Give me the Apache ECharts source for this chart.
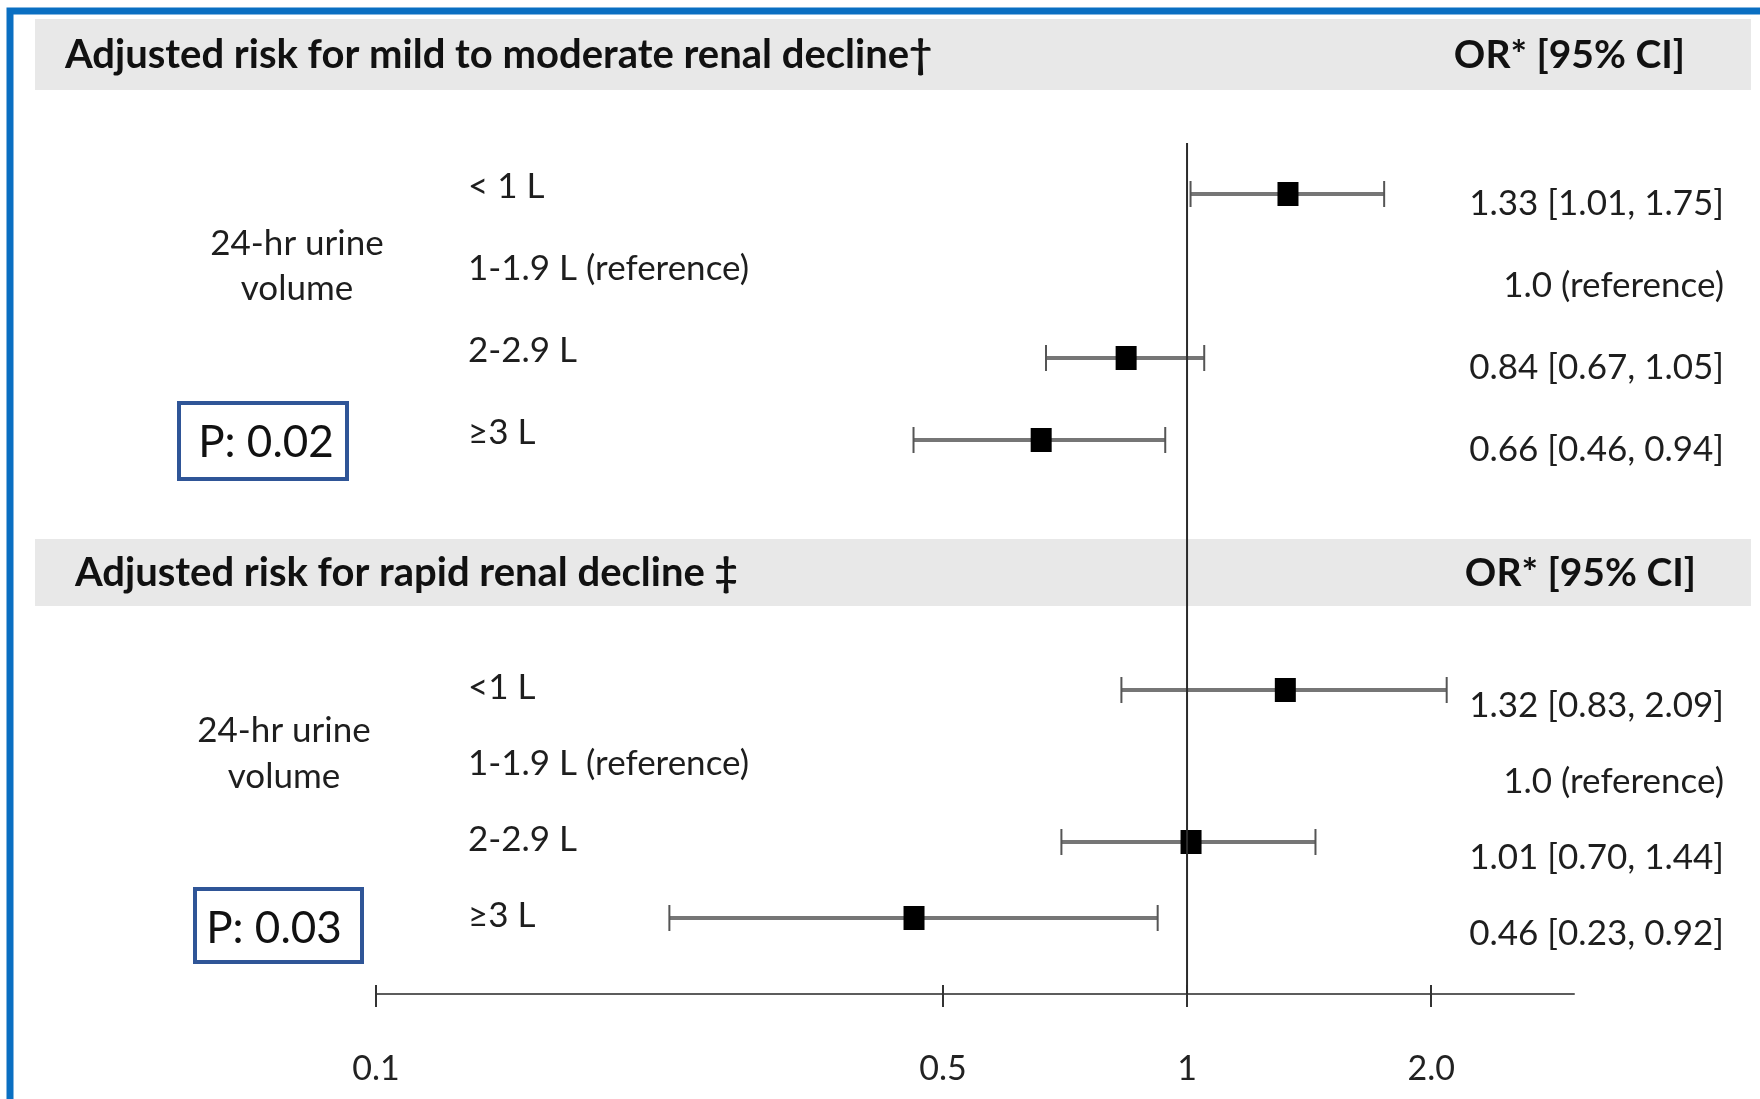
<!DOCTYPE html>
<html>
<head>
<meta charset="utf-8">
<script src="https://cdn.jsdelivr.net/npm/echarts@6/dist/echarts.min.js"></script>
<style>
  html, body { margin: 0; padding: 0; background: #ffffff; }
  #chart { width: 1760px; height: 1099px; }
</style>
</head>
<body>
<div id="chart"></div>
<script>
// ---- data ----
const subgroupsMild = ['< 1 L', '1-1.9 L (reference)', '2-2.9 L', '\u22653 L'];
const orMild = [1.33, null, 0.84, 0.66];
const loMild = [1.01, null, 0.67, 0.46];
const hiMild = [1.75, null, 1.05, 0.94];

const subgroupsRapid = ['<1 L', '1-1.9 L (reference)', '2-2.9 L', '\u22653 L'];
const orRapid = [1.32, null, 1.01, 0.46];
const loRapid = [0.83, null, 0.70, 0.23];
const hiRapid = [2.09, null, 1.44, 0.92];

const referenceOR = 1;
const tickValues = [0.1, 0.5, 1, 2];
const tickLabels = ['0.1', '0.5', '1', '2.0'];
const axisUpper = 3;

const groupLabel = ['24-hr urine', 'volume'];
const titleMild = 'Adjusted risk for mild to moderate renal decline\u2020';
const titleRapid = 'Adjusted risk for rapid renal decline \u2021';
const orHeader = 'OR* [95% CI]';
const pMild = 'P: 0.02';
const pRapid = 'P: 0.03';

// ---- helpers ----
const FONT = 'Lato';
const TEXT = '#1e1e1e';
const toX = v => Math.log10(v);   // odds ratios are plotted on a log scale

function orText(or, lo, hi) {
  return or.map((v, i) => v == null
    ? '1.0 (reference)'
    : v.toFixed(2) + ' [' + lo[i].toFixed(2) + ', ' + hi[i].toFixed(2) + ']');
}
function ciData(or, lo, hi) {
  const out = [];
  or.forEach((v, i) => { if (v != null) out.push([toX(lo[i]), toX(hi[i]), toX(v), i]); });
  return out;
}

const xMin = toX(tickValues[0]);
const xMax = toX(axisUpper);
const GRID_L = 376, GRID_W = 1198;

function hiddenX(gridIndex) {
  return { gridIndex, type: 'value', min: xMin, max: xMax, show: false };
}
// subgroup names, drawn inside the plot area to the left of the estimates
function leftCats(gridIndex, cats, lift) {
  return {
    gridIndex, type: 'category', inverse: true, data: cats, position: 'left',
    axisLine: { show: false }, axisTick: { show: false }, splitLine: { show: false },
    axisLabel: { interval: 0, align: 'left', margin: -92, verticalAlign: 'bottom', lineHeight: 2 * lift,
      fontFamily: FONT, fontSize: 35, color: TEXT }
  };
}
// OR [95% CI] column on the right
function rightCats(gridIndex, cats, drop) {
  return {
    gridIndex, type: 'category', inverse: true, data: cats, position: 'right',
    axisLine: { show: false }, axisTick: { show: false }, splitLine: { show: false },
    axisLabel: { interval: 0, align: 'right', margin: 150, verticalAlign: 'top', lineHeight: 2 * drop,
      fontFamily: FONT, fontSize: 35, color: TEXT }
  };
}
function renderCI(params, api) {
  const row = api.value(3);
  const a = api.coord([api.value(0), row]);
  const b = api.coord([api.value(1), row]);
  const m = api.coord([api.value(2), row]);
  return {
    type: 'group',
    children: [
      { type: 'line', shape: { x1: a[0], y1: a[1], x2: b[0], y2: b[1] }, style: { stroke: '#767676', lineWidth: 4 } },
      { type: 'line', shape: { x1: a[0], y1: a[1] - 13, x2: a[0], y2: a[1] + 13 }, style: { stroke: '#555', lineWidth: 2 } },
      { type: 'line', shape: { x1: b[0], y1: b[1] - 13, x2: b[0], y2: b[1] + 13 }, style: { stroke: '#555', lineWidth: 2 } },
      { type: 'rect', shape: { x: m[0] - 10, y: m[1] - 12, width: 21, height: 24 }, style: { fill: '#000' } }
    ]
  };
}
const tickPos = tickValues.map(toX);
const tickFormatter = v => {
  const i = tickPos.findIndex(t => Math.abs(t - v) < 1e-9);
  return i >= 0 ? tickLabels[i] : '';
};

const chart = echarts.init(document.getElementById('chart'), null, { renderer: 'canvas' });
chart.setOption({
  animation: false,
  backgroundColor: '#ffffff',
  grid: [
    { left: GRID_L, width: GRID_W, top: 153, height: 328 },
    { left: GRID_L, width: GRID_W, top: 652, height: 304 },
    { left: GRID_L, width: GRID_W, top: 143, height: 851 }
  ],
  xAxis: [
    hiddenX(0),
    hiddenX(1),
    {
      gridIndex: 2, type: 'value', min: xMin, max: xMax, position: 'bottom',
      splitLine: { show: false },
      axisLine: { show: true, lineStyle: { color: '#5c5c5c', width: 2 } },
      axisTick: { show: true, customValues: tickPos, length: 13, lineStyle: { color: '#333', width: 2 } },
      axisLabel: { customValues: tickPos, formatter: tickFormatter, margin: 58,
        fontFamily: FONT, fontSize: 34, color: '#222' }
    },
    {
      gridIndex: 2, type: 'value', min: xMin, max: xMax, position: 'bottom',
      splitLine: { show: false }, axisLine: { show: false }, axisLabel: { show: false },
      axisTick: { show: true, inside: true, customValues: tickPos, length: 9, lineStyle: { color: '#333', width: 2 } }
    }
  ],
  yAxis: [
    leftCats(0, subgroupsMild, 7),
    rightCats(0, orText(orMild, loMild, hiMild), 10),
    leftCats(1, subgroupsRapid, 2),
    rightCats(1, orText(orRapid, loRapid, hiRapid), 16),
    { gridIndex: 2, type: 'value', min: 0, max: 1, show: false }
  ],
  graphic: [
    // page frame (top and left edges)
    { type: 'rect', z: 1, shape: { x: 10, y: 11, width: 2000, height: 2000 },
      style: { fill: null, stroke: '#0a6fc2', lineWidth: 7 } },
    // section header bands
    { type: 'rect', z: 0, shape: { x: 35, y: 19, width: 1716, height: 71 }, style: { fill: '#e8e8e8' } },
    { type: 'rect', z: 0, shape: { x: 35, y: 539, width: 1716, height: 67 }, style: { fill: '#e8e8e8' } },
    { type: 'text', z: 1, x: 65, y: 55, style: { text: titleMild, font: 'bold 40px Lato', fill: '#111', verticalAlign: 'middle' } },
    { type: 'text', z: 1, x: 1685, y: 55, style: { text: orHeader, font: 'bold 39px Lato', fill: '#111', align: 'right', verticalAlign: 'middle' } },
    { type: 'text', z: 1, x: 75, y: 573, style: { text: titleRapid, font: 'bold 40px Lato', fill: '#111', verticalAlign: 'middle' } },
    { type: 'text', z: 1, x: 1696, y: 573, style: { text: orHeader, font: 'bold 39px Lato', fill: '#111', align: 'right', verticalAlign: 'middle' } },
    // variable labels
    { type: 'text', z: 1, x: 297, y: 244, style: { text: groupLabel[0], font: '35px Lato', fill: TEXT, align: 'center', verticalAlign: 'middle' } },
    { type: 'text', z: 1, x: 297, y: 289, style: { text: groupLabel[1], font: '35px Lato', fill: TEXT, align: 'center', verticalAlign: 'middle' } },
    { type: 'text', z: 1, x: 284, y: 731, style: { text: groupLabel[0], font: '35px Lato', fill: TEXT, align: 'center', verticalAlign: 'middle' } },
    { type: 'text', z: 1, x: 284, y: 777, style: { text: groupLabel[1], font: '35px Lato', fill: TEXT, align: 'center', verticalAlign: 'middle' } },
    // p-value boxes
    { type: 'rect', z: 1, shape: { x: 179, y: 403, width: 168, height: 76 }, style: { fill: '#fff', stroke: '#2f5597', lineWidth: 4 } },
    { type: 'text', z: 2, x: 266, y: 443, style: { text: pMild, font: '44px Lato', fill: '#111', align: 'center', verticalAlign: 'middle' } },
    { type: 'rect', z: 1, shape: { x: 195, y: 889, width: 167, height: 73 }, style: { fill: '#fff', stroke: '#2f5597', lineWidth: 4 } },
    { type: 'text', z: 2, x: 274, y: 929, style: { text: pRapid, font: '44px Lato', fill: '#111', align: 'center', verticalAlign: 'middle' } }
  ],
  series: [
    {
      type: 'line', xAxisIndex: 2, yAxisIndex: 4, symbol: 'none', silent: true,
      data: [[toX(referenceOR), 0], [toX(referenceOR), 1]],
      lineStyle: { color: '#2b2b2b', width: 2 }
    },
    {
      type: 'custom', xAxisIndex: 0, yAxisIndex: 0, renderItem: renderCI,
      encode: { x: [0, 1, 2], y: 3 }, data: ciData(orMild, loMild, hiMild), z: 3
    },
    {
      type: 'custom', xAxisIndex: 1, yAxisIndex: 2, renderItem: renderCI,
      encode: { x: [0, 1, 2], y: 3 }, data: ciData(orRapid, loRapid, hiRapid), z: 3
    }
  ]
});
</script>
</body>
</html>
